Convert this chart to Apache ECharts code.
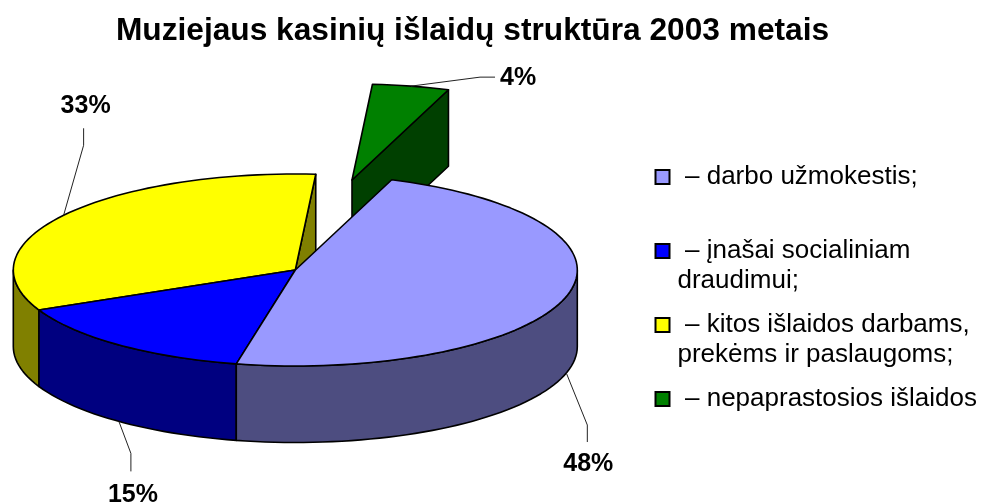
<!DOCTYPE html>
<html lang="lt">
<head>
  <meta charset="UTF-8">
  <title>Muziejaus kasinių išlaidų struktūra 2003 metais</title>
  <style>
    html, body { margin: 0; padding: 0; background: #fff; }
    #chart { width: 983px; height: 504px; }
  </style>
  <script src="https://cdn.jsdelivr.net/npm/echarts@6/dist/echarts.min.js"></script>
</head>
<body>
  <div id="chart"></div>
  <script>
    // data, in legend order
    var chartTitle = 'Muziejaus kasinių išlaidų struktūra 2003 metais';
    var sliceNames = ['darbo užmokestis', 'įnašai socialiniam draudimui', 'kitos išlaidos darbams, prekėms ir paslaugoms', 'nepaprastosios išlaidos'];
    var sliceValues = [47.8, 14.8, 33.0, 4.4];
    var legendLines = [
      ['– darbo užmokestis;'],
      ['– įnašai socialiniam', 'draudimui;'],
      ['– kitos išlaidos darbams,', 'prekėms ir paslaugoms;'],
      ['– nepaprastosios išlaidos']
    ];

    // colours
    var topColors = ['#9999FF', '#0000FF', '#FFFF00', '#008000'];
    var sideColors = ['#4D4D80', '#000080', '#808000', '#004000'];

    // pie geometry: flattened disc, angles clockwise from the top
    var cx = 295.3, cy = 270, rx = 282, ry = 96, depth = 76.5;
    var startAngle = 20;
    var explodeX = [0, 0, 0, 56.7];
    var explodeY = [0, 0, 0, -90];
    var paintOrder = [3, 2, 1, 0];

    // leader line: offsets from the anchor on the slice edge, then label offset from the line end
    var leaderElbow = [[21, 52], [12, 32], [20, -70], [69, -9]];
    var leaderEnd = [[21, 69], [12, 50], [20, -87], [84, -9]];
    var labelShift = [[1, 22], [2, 24], [2, -22], [5, 1]];
    var labelAlign = ['center', 'center', 'center', 'left'];

    function rad(d) { return d * Math.PI / 180; }
    function onRim(t, dx, dy) {
      return [cx + dx + rx * Math.sin(rad(t)), cy + dy - ry * Math.cos(rad(t))];
    }
    function arc(a, b, dx, dy) {
      var pts = [], n = Math.max(2, Math.ceil(Math.abs(b - a) / 2));
      for (var i = 0; i <= n; i++) {
        pts.push(onRim(a + (b - a) * i / n, dx, dy));
      }
      return pts;
    }

    function sliceRange(index) {
      var total = sliceValues.reduce(function (s, v) { return s + v; }, 0);
      var a = startAngle;
      for (var i = 0; i < index; i++) a += sliceValues[i] / total * 360;
      return [a, a + sliceValues[index] / total * 360];
    }

    function poly(points, fill, z2) {
      return {
        type: 'polygon',
        z2: z2,
        shape: { points: points },
        style: { fill: fill, stroke: '#000', lineWidth: 1.6, lineJoin: 'round' }
      };
    }

    function renderSlice(params, api) {
      var i = params.dataIndex;
      var range = sliceRange(i);
      var a = range[0], b = range[1];
      var dx = explodeX[i], dy = explodeY[i];
      var z = paintOrder[i] * 10 + 1;
      var apex = [cx + dx, cy + dy];
      var kids = [];

      // cut face at the clockwise end, only when it looks towards us
      if (Math.sin(rad(b)) > 0) {
        var outer = onRim(b, dx, dy);
        kids.push(poly([apex, outer, [outer[0], outer[1] + depth], [apex[0], apex[1] + depth]], sideColors[i], z));
      }

      // outer wall, front half of the rim only
      var wa = Math.max(a, 90), wb = Math.min(b, 270);
      if (wb > wa) {
        var upper = arc(wa, wb, dx, dy);
        var lower = arc(wb, wa, dx, dy + depth);
        kids.push(poly(upper.concat(lower), sideColors[i], z + 1));
      }

      // top face
      kids.push(poly([apex].concat(arc(a, b, dx, dy)), topColors[i], z + 2));

      // leader line and percent label
      var mid = (a + b) / 2;
      var front = Math.cos(rad(mid)) < 0;
      var anchor = onRim(mid, dx, dy + (front ? depth : 0));
      var end = [anchor[0] + leaderEnd[i][0], anchor[1] + leaderEnd[i][1]];
      kids.push({
        type: 'polyline',
        z2: 60,
        shape: { points: [anchor, [anchor[0] + leaderElbow[i][0], anchor[1] + leaderElbow[i][1]], end] },
        style: { fill: null, stroke: '#222', lineWidth: 1 }
      });
      kids.push({
        type: 'text',
        z2: 60,
        style: {
          x: end[0] + labelShift[i][0],
          y: end[1] + labelShift[i][1],
          text: Math.round(api.value(0)) + '%',
          fill: '#000',
          font: 'bold 25px "Liberation Sans", Arial, sans-serif',
          align: labelAlign[i],
          verticalAlign: 'middle'
        }
      });
      return { type: 'group', children: kids };
    }

    // legend rows are laid out by hand because the swatch sits on the first line
    var legendTop = [177, 251, 325, 399];
    var legendGraphics = [];
    legendLines.forEach(function (lines, i) {
      legendGraphics.push({
        type: 'rect',
        shape: { x: 655.5, y: legendTop[i] - 7, width: 14, height: 14 },
        style: { fill: topColors[i], stroke: '#000', lineWidth: 2 }
      });
      lines.forEach(function (line, k) {
        legendGraphics.push({
          type: 'text',
          x: k === 0 ? 685 : 677.5,
          y: legendTop[i] + k * 30,
          style: {
            text: line,
            fill: '#000',
            font: '26px "Liberation Sans", Arial, sans-serif',
            verticalAlign: 'middle'
          }
        });
      });
    });

    var chart = echarts.init(document.getElementById('chart'), null, { renderer: 'canvas' });
    chart.setOption({
      animation: false,
      backgroundColor: '#fff',
      title: {
        text: chartTitle,
        left: 467.5,
        top: 10,
        textAlign: 'center',
        textStyle: { color: '#000', fontFamily: '"Liberation Sans", Arial, sans-serif', fontWeight: 'bold', fontSize: 31.7 }
      },
      graphic: legendGraphics,
      series: [{
        type: 'custom',
        coordinateSystem: 'none',
        renderItem: renderSlice,
        data: sliceValues.map(function (v, i) { return { name: sliceNames[i], value: [v] }; })
      }]
    });
  </script>
</body>
</html>
